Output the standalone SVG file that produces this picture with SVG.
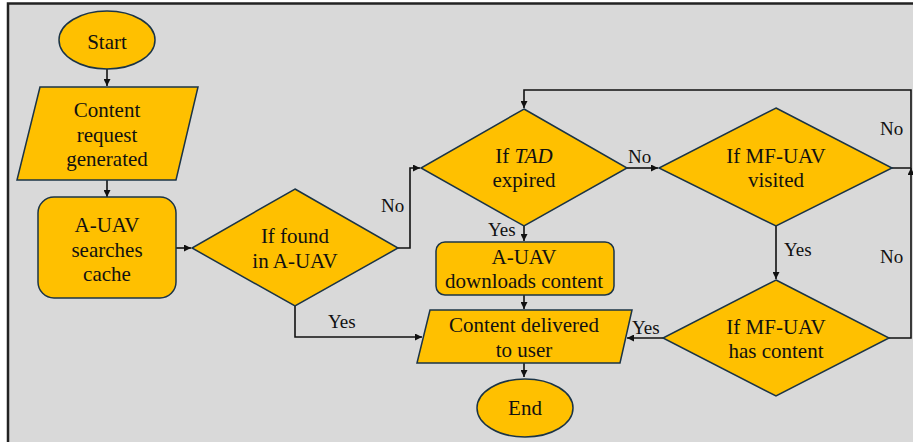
<svg xmlns="http://www.w3.org/2000/svg" width="913" height="442" viewBox="0 0 913 442" font-family="Liberation Serif, Times New Roman, serif">
<defs>
<marker id="ah" viewBox="0 0 10 10" refX="10" refY="5" markerWidth="7" markerHeight="7" markerUnits="userSpaceOnUse" orient="auto">
<path d="M0,0 L10,5 L0,10 z" fill="#111"/>
</marker>
<style>
.shape{fill:#ffc000;stroke:#1b3446;stroke-width:1.5}
.t{font-family:'Liberation Serif','Times New Roman',serif;font-size:21px;fill:#111;text-anchor:middle}
.lbl{font-family:'Liberation Serif','Times New Roman',serif;font-size:19px;fill:#111}
.c{fill:none;stroke:#111;stroke-width:1.6;marker-end:url(#ah)}
</style>
</defs>
<rect x="8" y="3.5" width="920" height="450" fill="#d9d9d9" stroke="#222" stroke-width="2.5"/>
<g id="connectors">
<path class="c" d="M107,69 V86"/>
<path class="c" d="M107,180 V197"/>
<path class="c" d="M176,248 H191"/>
<path class="c" d="M398,248 H410 V168 H420"/>
<path class="c" d="M295,306 V337 H422"/>
<path class="c" d="M627,168 H658"/>
<path class="c" d="M524,226 V241"/>
<path class="c" d="M524,295 V309"/>
<path class="c" d="M524,363 V377"/>
<path class="c" d="M776,226 V279"/>
<path class="c" d="M892,168 H911 V90 H524 V108"/>
<path class="c" d="M889,338 H911 V168"/>
<path class="c" d="M663,338 H627"/>
<text class="lbl" x="381" y="212">No</text>
<text class="lbl" x="328" y="328">Yes</text>
<text class="lbl" x="628" y="163">No</text>
<text class="lbl" x="488" y="236">Yes</text>
<text class="lbl" x="880" y="135">No</text>
<text class="lbl" x="784" y="256">Yes</text>
<text class="lbl" x="880" y="263">No</text>
<text class="lbl" x="632" y="334">Yes</text>
</g>
<g id="start">
<ellipse class="shape" cx="107" cy="40" rx="48" ry="29"/>
<text class="t" x="107" y="49">Start</text>
</g>
<g id="request">
<polygon class="shape" points="40,87 198,87 176,180 17,180"/>
<text class="t" x="107" y="117">Content</text>
<text class="t" x="107" y="142">request</text>
<text class="t" x="107" y="166">generated</text>
</g>
<g id="search">
<rect class="shape" x="38" y="197" width="138" height="101" rx="16"/>
<text class="t" x="107" y="232">A-UAV</text>
<text class="t" x="107" y="257">searches</text>
<text class="t" x="107" y="281">cache</text>
</g>
<g id="found">
<polygon class="shape" points="295,189 398,248 295,306 192,248"/>
<text class="t" x="295" y="243">If found</text>
<text class="t" x="295" y="268">in A-UAV</text>
</g>
<g id="tad">
<polygon class="shape" points="524,109 627,168 524,226 421,168"/>
<text class="t" x="524" y="163">If <tspan font-style="italic">TAD</tspan></text>
<text class="t" x="524" y="187">expired</text>
</g>
<g id="download">
<rect class="shape" x="436" y="242" width="178" height="53" rx="9"/>
<text class="t" x="524" y="264">A-UAV</text>
<text class="t" x="524" y="288">downloads content</text>
</g>
<g id="delivered">
<polygon class="shape" points="430,310 632,310 620,363 417,363"/>
<text class="t" x="524" y="332">Content delivered</text>
<text class="t" x="524" y="357">to user</text>
</g>
<g id="end">
<ellipse class="shape" cx="525" cy="408" rx="48" ry="29"/>
<text class="t" x="525" y="415">End</text>
</g>
<g id="visited">
<polygon class="shape" points="776,108 892,168 776,226 659,168"/>
<text class="t" x="776" y="163">If MF-UAV</text>
<text class="t" x="776" y="187">visited</text>
</g>
<g id="hascontent">
<polygon class="shape" points="776,280 889,338 776,396 663,338"/>
<text class="t" x="776" y="334">If MF-UAV</text>
<text class="t" x="776" y="358">has content</text>
</g>
</svg>
